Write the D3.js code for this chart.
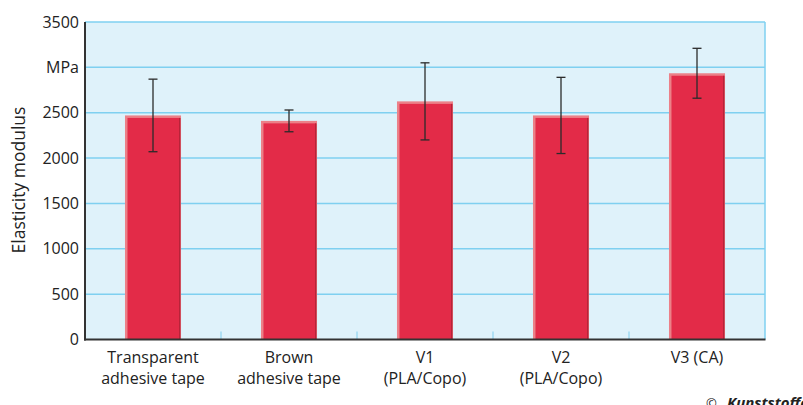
<!DOCTYPE html>
<html><head><meta charset="utf-8">
<script src="https://cdn.jsdelivr.net/npm/d3@7"></script>
<style>body{margin:0;background:#fff}svg{display:block}text{font-family:"Open Sans","Noto Sans",sans-serif;fill:#222}</style>
</head><body><svg id="c" width="803" height="405"></svg>
<script>
const categories = [["Transparent","adhesive tape"],["Brown","adhesive tape"],["V1","(PLA/Copo)"],["V2","(PLA/Copo)"],["V3 (CA)"]];
const values = [2470, 2410, 2625, 2470, 2935];
const errors = [400, 120, 425, 420, 275];
const yTicks = [0,500,1000,1500,2000,2500,3000,3500];
const yTickLabels = ["0","500","1000","1500","2000","2500","MPa","3500"];

const svg = d3.select("#c");
const m = {l:85, r:765, t:22, b:339.5};
const x = d3.scaleBand().domain(d3.range(categories.length)).range([m.l, m.r]).paddingInner(0.588).paddingOuter(0.294);
const y = d3.scaleLinear().domain([0,3500]).range([m.b, m.t]);

svg.append("rect").attr("x",m.l).attr("y",m.t).attr("width",m.r-m.l).attr("height",m.b-m.t).attr("fill","#dff2fa");
svg.append("g").selectAll("line").data(yTicks.filter(d=>d>0)).join("line")
  .attr("x1",m.l).attr("x2",m.r).attr("y1",d=>y(d)).attr("y2",d=>y(d))
  .attr("stroke","#7fd0f0").attr("stroke-width",1.5);
svg.append("line").attr("x1",m.r).attr("x2",m.r).attr("y1",m.t).attr("y2",m.b).attr("stroke","#7fd0f0").attr("stroke-width",1.5);

// separators
const seps = d3.range(1,categories.length).map(i=>m.l + i*(m.r-m.l)/categories.length);
svg.append("g").selectAll("line").data(seps).join("line")
  .attr("x1",d=>d).attr("x2",d=>d).attr("y1",m.b).attr("y2",m.b-8).attr("stroke","#8fd4f0").attr("stroke-width",1.2);

// bars
const bw = x.bandwidth();
const g = svg.append("g");
values.forEach((v,i)=>{
  const x0 = x(i), y0 = y(v), h = m.b - y0;
  g.append("rect").attr("x",x0).attr("y",y0).attr("width",bw).attr("height",h).attr("fill","#ec8088");
  g.append("rect").attr("x",x0+2.5).attr("y",y0+2.5).attr("width",bw-3.5).attr("height",h-3).attr("fill","#e32b48");
  g.append("rect").attr("x",x0+bw-2).attr("y",y0+2.5).attr("width",1.5).attr("height",h-3).attr("fill","#b82439");
});
// error bars
const eg = svg.append("g").attr("stroke","#2b2b2b").attr("stroke-width",1.3);
values.forEach((v,i)=>{
  const cx = x(i)+bw/2;
  eg.append("line").attr("x1",cx).attr("x2",cx).attr("y1",y(v+errors[i])).attr("y2",y(v-errors[i]));
  [v+errors[i], v-errors[i]].forEach(e=>eg.append("line").attr("x1",cx-4.5).attr("x2",cx+4.5).attr("y1",y(e)).attr("y2",y(e)));
});

// axes
const ya = svg.append("g").attr("transform",`translate(${m.l},0)`)
  .call(d3.axisLeft(y).tickValues(yTicks).tickFormat((d,i)=>yTickLabels[i]).tickSize(0).tickPadding(6));
ya.select(".domain").remove();
ya.selectAll("text").style("font-size","16px").attr("fill","#222").attr("font-family",null);
svg.append("line").attr("x1",m.l).attr("x2",m.l).attr("y1",m.t).attr("y2",m.b+1).attr("stroke","#333").attr("stroke-width",2);
svg.append("line").attr("x1",m.l-1).attr("x2",m.r+0.5).attr("y1",m.b).attr("y2",m.b).attr("stroke","#333").attr("stroke-width",2);

// x labels
const xl = svg.append("g");
categories.forEach((c,i)=>{
  const t = xl.append("text").attr("x",x(i)+bw/2).attr("y",363).attr("text-anchor","middle").style("font-size","16px");
  c.forEach((line,j)=>t.append("tspan").attr("x",x(i)+bw/2).attr("dy",j===0?0:21).text(line));
});

svg.append("text").attr("transform","translate(25,180) rotate(-90)").attr("text-anchor","middle").style("font-size","17.5px").text("Elasticity modulus");
svg.append("text").attr("x",706).attr("y",408).style("font-size","13px").text("©");
svg.append("text").attr("x",727).attr("y",408).style("font-size","15px").style("font-weight","bold").style("font-style","italic").text("Kunststoffe");
</script></body></html>
